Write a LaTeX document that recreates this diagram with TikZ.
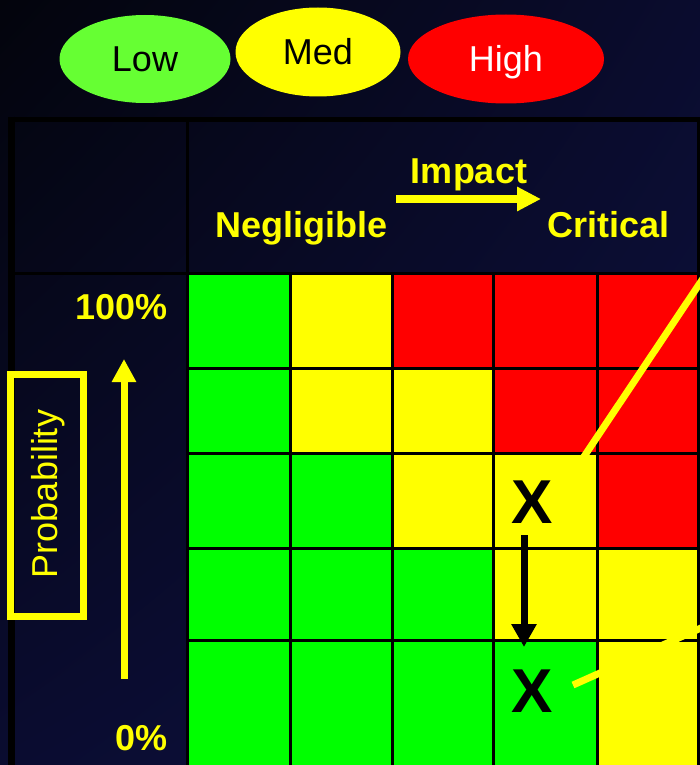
\documentclass[tikz,border=0pt]{standalone}
\usepackage{fontspec}
\setmainfont{Liberation Sans}
\usetikzlibrary{shapes.geometric,arrows.meta,shadings}
\definecolor{cgreen}{HTML}{00FF00}
\definecolor{cyellow}{HTML}{FFFF00}
\definecolor{cred}{HTML}{FF0000}
\definecolor{lowgreen}{HTML}{66FF33}
\definecolor{bgA}{HTML}{03040C}
\definecolor{bgB}{HTML}{0A0C2E}
\definecolor{bgC}{HTML}{0A0C30}
\definecolor{bgD}{HTML}{0E1142}
\newcommand\riskcell[5]{\fill[#5] (#1,#2) rectangle (#3,#4);}
\begin{document}
\begin{tikzpicture}[x=1pt,y=-1pt,
  legend/.style={ellipse, inner sep=0pt, text height=26pt, text depth=0pt,
    font=\fontsize{36}{40}\selectfont},
  hdr/.style={text=cyellow, inner sep=0pt, font=\fontsize{36}{40}\selectfont\bfseries},
  xmark/.style={inner sep=0pt, anchor=base, font=\fontsize{62}{62}\selectfont\bfseries},
  grid/.style={black, line width=3pt},
  ylink/.style={cyellow, line width=7pt}]
\useasboundingbox (0,0) rectangle (700,765);
\clip (0,0) rectangle (700,765);
\shade[upper left=bgA, upper right=bgB, lower left=bgC, lower right=bgD] (0,0) rectangle (700,765);

% legend
\node[legend, fill=lowgreen, minimum width=171pt, minimum height=88pt] (low) at (145,59) {Low};
\node[legend, fill=cyellow, minimum width=165pt, minimum height=89pt] (med) at (318,52) {Med};
\node[legend, fill=cred, text=white, minimum width=196pt, minimum height=89pt] (high) at (506,59) {High};

% cells: row 1
\riskcell{188}{273}{290}{368}{cgreen}
\riskcell{290}{273}{392}{368}{cyellow}
\riskcell{392}{273}{493}{368}{cred}
\riskcell{493}{273}{597}{368}{cred}
\riskcell{597}{273}{700}{368}{cred}
% row 2
\riskcell{188}{368}{290}{453}{cgreen}
\riskcell{290}{368}{392}{453}{cyellow}
\riskcell{392}{368}{493}{453}{cyellow}
\riskcell{493}{368}{597}{453}{cred}
\riskcell{597}{368}{700}{453}{cred}
% row 3
\riskcell{188}{453}{290}{548}{cgreen}
\riskcell{290}{453}{392}{548}{cgreen}
\riskcell{392}{453}{493}{548}{cyellow}
\riskcell{493}{453}{597}{548}{cyellow}
\riskcell{597}{453}{700}{548}{cred}
% row 4
\riskcell{188}{548}{290}{640}{cgreen}
\riskcell{290}{548}{392}{640}{cgreen}
\riskcell{392}{548}{493}{640}{cgreen}
\riskcell{493}{548}{597}{640}{cyellow}
\riskcell{597}{548}{700}{640}{cyellow}
% row 5
\riskcell{188}{640}{290}{770}{cgreen}
\riskcell{290}{640}{392}{770}{cgreen}
\riskcell{392}{640}{493}{770}{cgreen}
\riskcell{493}{640}{597}{770}{cgreen}
\riskcell{597}{640}{700}{770}{cyellow}

% grid lines
\foreach \gx in {290,392,493,597} \draw[grid] (\gx,273) -- (\gx,770);
\foreach \gy in {368,453,548,640} \draw[grid] (188,\gy) -- (700,\gy);
\draw[grid] (187,122) -- (187,770);
\draw[grid] (15,273) -- (700,273);
\draw[black, line width=4pt] (698.5,121) -- (698.5,770);
\draw[black, line width=5pt] (12,119.5) -- (700,119.5);
\draw[black, line width=7pt] (11.5,117) -- (11.5,770);

% header texts
\node[hdr, anchor=base] (impact) at (469,183) {Impact};
\node[hdr, anchor=base west] (negl) at (215,237) {Negligible};
\node[hdr, anchor=base west] (crit) at (547,237) {Critical};
\coordinate (ia) at (396,199);
\coordinate (ib) at (541,199);
\draw[cyellow, line width=8pt, -{Triangle[length=24pt, width=23pt]}] (ia) -- (ib);

% probability axis
\node[hdr, anchor=base east] (p100) at (168,319) {100\%};
\node[hdr, anchor=base east] (p0) at (168,750) {0\%};
\node[draw=cyellow, line width=7pt, minimum width=73pt, minimum height=242pt, inner sep=0pt] (probbox) at (47,495.5) {};
\node[text=cyellow, inner sep=0pt, anchor=base, rotate=90, font=\fontsize{36}{40}\selectfont] (prob) at (57,494) {Probability};
\coordinate (pa) at (124,679);
\coordinate (pb) at (124,359);
\draw[cyellow, line width=7pt, -{Triangle[length=23pt, width=23pt]}] (pa) -- (pb);

% marks
\node[xmark] (xa) at (532,523) {X};
\node[xmark] (xb) at (532,712) {X};
\coordinate (da) at (524,535);
\coordinate (db) at (524,647);
\draw[black, line width=7pt, -{Triangle[length=23pt, width=24pt]}] (da) -- (db);

% yellow leader lines
\coordinate (la) at (573,473);
\coordinate (lb) at (710,268);
\coordinate (lc) at (573,685);
\coordinate (ld) at (710,624);
\draw[ylink] (la) -- (lb);
\draw[ylink] (lc) -- (ld);
\end{tikzpicture}
\end{document}
